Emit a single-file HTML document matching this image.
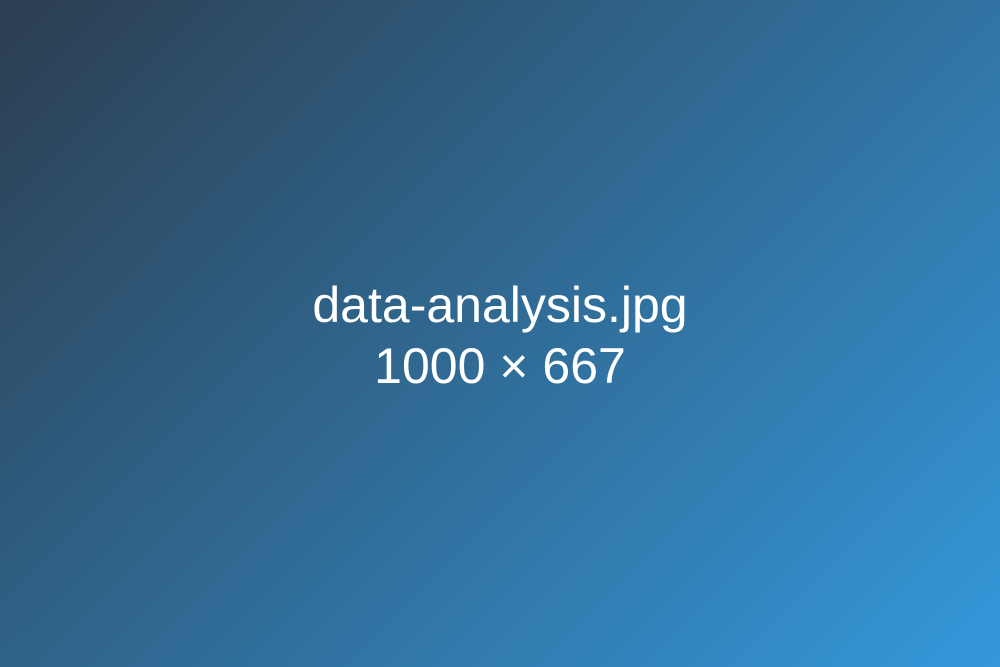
<!DOCTYPE html>
<html>
<head>
<meta charset="utf-8">
<style>
  html,body{margin:0;padding:0;}
  body{width:1000px;height:667px;overflow:hidden;}
  .bg{position:absolute;left:0;top:0;width:1000px;height:667px;
      background:linear-gradient(135deg,#2c3e50 0%,#3498db 100%);}
  .t{position:absolute;left:0;width:1000px;text-align:center;color:#fff;
     font-family:"Liberation Sans",Arial,sans-serif;font-size:50px;line-height:50px;white-space:nowrap;}
</style>
</head>
<body>
<div class="bg"></div>
<div class="t" style="top:280px">data-analysis.jpg</div>
<div class="t" style="top:341px">1000 × 667</div>
</body>
</html>
